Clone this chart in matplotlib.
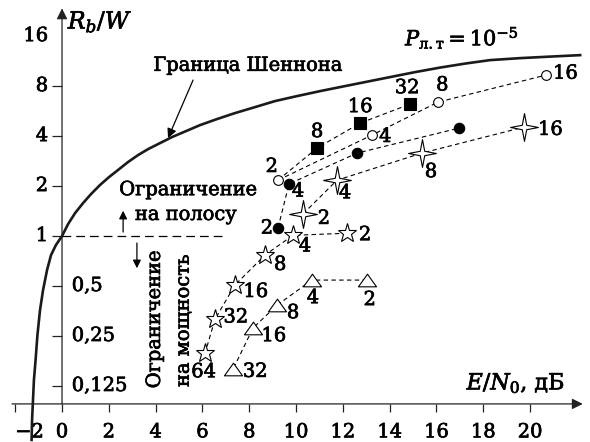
import matplotlib
matplotlib.use('Agg')
import matplotlib.pyplot as plt
import matplotlib.patheffects as pe
import numpy as np
from matplotlib.path import Path
from matplotlib.ticker import NullLocator


# Shannon bound
shannon_x = [-1.30, -1.28, -1.24, -1.20, -1.13, -1.05, -0.94, -0.81, -0.64, -0.47,
             -0.26, 0.0, 0.26, 0.56, 0.90, 1.24, 1.62, 2.01, 2.39, 2.82,
             3.25, 3.68, 4.19, 4.70, 5.30, 5.90, 6.62, 7.39, 8.25, 9.10,
             10.04, 11.03, 12.09, 13.16, 14.23, 15.09, 16.15, 17.22, 18.29, 19.57,
             20.85, 22.14]
shannon_y = [0.0592, 0.078, 0.103, 0.136, 0.179, 0.254, 0.358, 0.473, 0.624, 0.768,
             0.883, 1.0, 1.181, 1.376, 1.580, 1.790, 2.028, 2.266, 2.497, 2.790,
             3.074, 3.340, 3.630, 3.945, 4.287, 4.659, 5.063, 5.502, 5.979, 6.498,
             6.964, 7.464, 8.0, 8.574, 9.190, 9.714, 10.34, 10.93, 11.47, 11.79,
             12.04, 12.29]

# open circles
oc_x = [9.23, 13.25, 16.07, 20.68]
oc_y = [2.17, 4.06, 6.41, 9.32]
oc_m = ['2', '4', '8', '16']

# filled circles
fc_x = [9.23, 9.70, 12.61, 16.97]
fc_y = [1.12, 2.06, 3.16, 4.47]
fc_m = ['2', '4', '', '']

# filled squares (line starts at the open circle "2")
sq_x = [10.90, 12.74, 14.87]
sq_y = [3.39, 4.79, 6.23]
sq_m = ['8', '16', '32']

# 4-point stars
s4_x = [10.30, 11.75, 15.38, 19.74]
s4_y = [1.36, 2.17, 3.16, 4.53]
s4_m = ['2', '4', '8', '16']

# 5-point stars
s5_x = [12.18, 9.87, 8.68, 7.39, 6.54, 6.11]
s5_y = [1.04, 1.01, 0.77, 0.507, 0.316, 0.197]
s5_m = ['2', '4', '8', '16', '32', '64']

# triangles
tr_x = [13.03, 10.68, 9.19, 8.16, 7.31]
tr_y = [0.543, 0.543, 0.384, 0.279, 0.158]
tr_m = ['2', '4', '8', '16', '32']

xtick_vals = [-2, 0, 2, 4, 6, 8, 10, 12, 14, 16, 18, 20]
xtick_labels = ['\u22122', '0', '2', '4', '6', '8', '10', '12', '14', '16', '18', '20']
ytick_left = [16, 8, 4, 2, 1]
ytick_left_lbl = ['16', '8', '4', '2', '1']
ytick_right = [0.5, 0.25, 0.125]
ytick_right_lbl = ['0,5', '0,25', '0,125']

# label offsets (points) next to the markers
oc_off = [(-4.5, 9.5), (9.5, -1.4), (3, 12), (14, 1.0)]
fc_off = [(-8, -0.5), (6.5, -5.5), (0, 0), (0, 0)]
sq_off = [(0, 11.5), (0, 11.5), (-2, 11.5)]
s4_off = [(15, -3.6), (5.8, -9.4), (6.5, -13.7), (19, -2)]
s5_off = [(13, -1.4), (8.6, -8), (10.8, -7.2), (15, -5), (15, 1.2), (-1, -13.7)]
tr_off = [(2, -14.4), (0.7, -13), (11.5, -5.8), (15, -5.8), (16, -2)]

plt.rcParams['font.family'] = ['DejaVu Serif']
plt.rcParams['mathtext.fontset'] = 'dejavuserif'
FS = 14
bold = [pe.withStroke(linewidth=0.5, foreground='k')]

star4 = Path([(0, 1), (0.16, 0.16), (1, 0), (0.16, -0.16), (0, -1),
              (-0.16, -0.16), (-1, 0), (-0.16, 0.16), (0, 1)],
             [Path.MOVETO] + [Path.LINETO] * 7 + [Path.CLOSEPOLY])
tri = Path([(-1, -0.7), (1, -0.7), (0, 0.7), (-1, -0.7)],
           [Path.MOVETO, Path.LINETO, Path.LINETO, Path.CLOSEPOLY])

fig = plt.figure(figsize=(5.9, 4.42), dpi=100)
ax = fig.add_axes([0, 0, 1, 1])
ax.set_yscale('log', base=2)
ax.set_xlim(-2.65, 22.56)
ax.set_ylim(0.0575, 26.4)
ybase = 0.0975

for s in ax.spines.values():
    s.set_visible(False)
ax.spines['left'].set_position(('data', 0))
ax.spines['bottom'].set_position(('data', ybase))

ax.set_yticks([8, 4, 2, 1, 0.5, 0.25, 0.125])
ax.set_yticklabels([])
ax.yaxis.set_minor_locator(NullLocator())
ax.tick_params(axis='y', direction='out', length=7, width=0.9, color='#222')
ax.set_xticks(xtick_vals)
ax.set_xticklabels(xtick_labels, fontsize=FS)
ax.tick_params(axis='x', direction='out', length=6, width=0.9, color='#222', pad=8)
for t in ax.get_xticklabels():
    t.set_path_effects(bold)
ax.get_xticklabels()[0].set_horizontalalignment('left')

# axis lines with arrows
ax.annotate('', xy=(22.25, ybase), xytext=(-2.14, ybase),
            arrowprops=dict(arrowstyle='-|>', lw=0.9, color='#222', mutation_scale=16,
                            shrinkA=0, shrinkB=0))
ax.annotate('', xy=(0, 23.5), xytext=(0, ybase),
            arrowprops=dict(arrowstyle='-|>', lw=0.9, color='#222', mutation_scale=16,
                            shrinkA=0, shrinkB=0))

for v, l in zip(ytick_left, ytick_left_lbl):
    ax.annotate(l, xy=(0, v), xytext=(-10, 0), textcoords='offset points',
                ha='right', va='center', fontsize=FS, path_effects=bold)
for v, l in zip(ytick_right, ytick_right_lbl):
    ax.annotate(l, xy=(0, v), xytext=(7, 0), textcoords='offset points',
                ha='left', va='center', fontsize=FS, path_effects=bold)

# Shannon bound
ax.plot(shannon_x, shannon_y, color='#1a1a1a', lw=1.9, solid_joinstyle='round')

dash = dict(color='k', lw=0.8, ls=(0, (4, 3)))
ax.plot([0, 6.9], [1, 1], color='k', lw=0.9, ls=(0, (7, 4)))

# connecting dashed lines
ax.plot(oc_x, oc_y, **dash)
ax.plot(fc_x, fc_y, **dash)
ax.plot([oc_x[0]] + sq_x, [oc_y[0]] + sq_y, **dash)
ax.plot(s4_x, s4_y, **dash)
ax.plot(s5_x, s5_y, **dash)
ax.plot(tr_x, tr_y, **dash)

mk = dict(ls='none', mec='k', mew=0.8)
ax.plot(oc_x, oc_y, marker='o', ms=7, mfc='white', **mk)
ax.plot(fc_x, fc_y, marker='o', ms=7.5, mfc='k', **mk)
ax.plot(sq_x, sq_y, marker='s', ms=9.2, mfc='k', **mk)
ax.plot(s4_x, s4_y, marker=star4, ms=20, mfc='white', **mk)
ax.plot(s5_x, s5_y, marker='*', ms=14, mfc='white', **mk)
ax.plot(tr_x, tr_y, marker=tri, ms=13, mfc='white', **mk)

for xs, ys, ms, offs in [(oc_x, oc_y, oc_m, oc_off), (fc_x, fc_y, fc_m, fc_off),
                         (sq_x, sq_y, sq_m, sq_off), (s4_x, s4_y, s4_m, s4_off),
                         (s5_x, s5_y, s5_m, s5_off), (tr_x, tr_y, tr_m, tr_off)]:
    for x, y, m, o in zip(xs, ys, ms, offs):
        if m:
            ax.annotate(m, xy=(x, y), xytext=o, textcoords='offset points',
                        ha='center', va='center', fontsize=FS, path_effects=bold)

# annotations
ax.text(7.95, 10.6, 'Граница Шеннона', ha='center', va='center', fontsize=FS,
        path_effects=bold)
ax.annotate('', xy=(4.53, 3.89), xytext=(5.6, 8.7),
            arrowprops=dict(arrowstyle='-|>', lw=0.9, color='k', mutation_scale=14,
                            shrinkA=0, shrinkB=0))
ax.text(17.1, 15.6, r'$P_{\mathrm{л.т}} = 10^{-5}$', ha='center', va='center',
        fontsize=FS + 1, path_effects=bold)
ax.text(0.25, 19.6, r'$R_b/W$', ha='left', va='center', fontsize=FS + 3,
        path_effects=bold)
ax.text(19.4, 0.13, r'$E/N_0$, дБ', ha='center', va='center', fontsize=FS + 2,
        path_effects=bold)

ax.text(5.4, 1.89, 'Ограничение', ha='center', va='center', fontsize=FS,
        path_effects=bold)
ax.text(5.3, 1.34, 'на полосу', ha='center', va='center', fontsize=FS,
        path_effects=bold)
ax.annotate('', xy=(2.61, 1.42), xytext=(2.61, 1.057),
            arrowprops=dict(arrowstyle='-|>', lw=0.9, color='k', mutation_scale=12,
                            shrinkA=0, shrinkB=0))
ax.annotate('', xy=(3.2, 0.64), xytext=(3.2, 0.908),
            arrowprops=dict(arrowstyle='-|>', lw=0.9, color='k', mutation_scale=12,
                            shrinkA=0, shrinkB=0))
ax.text(3.97, 0.316, 'Ограничение', ha='center', va='center', rotation=90,
        fontsize=FS, path_effects=bold)
ax.text(5.2, 0.31, 'на мощность', ha='center', va='center', rotation=90,
        fontsize=FS, path_effects=bold)

fig.savefig('out.png', dpi=100)
